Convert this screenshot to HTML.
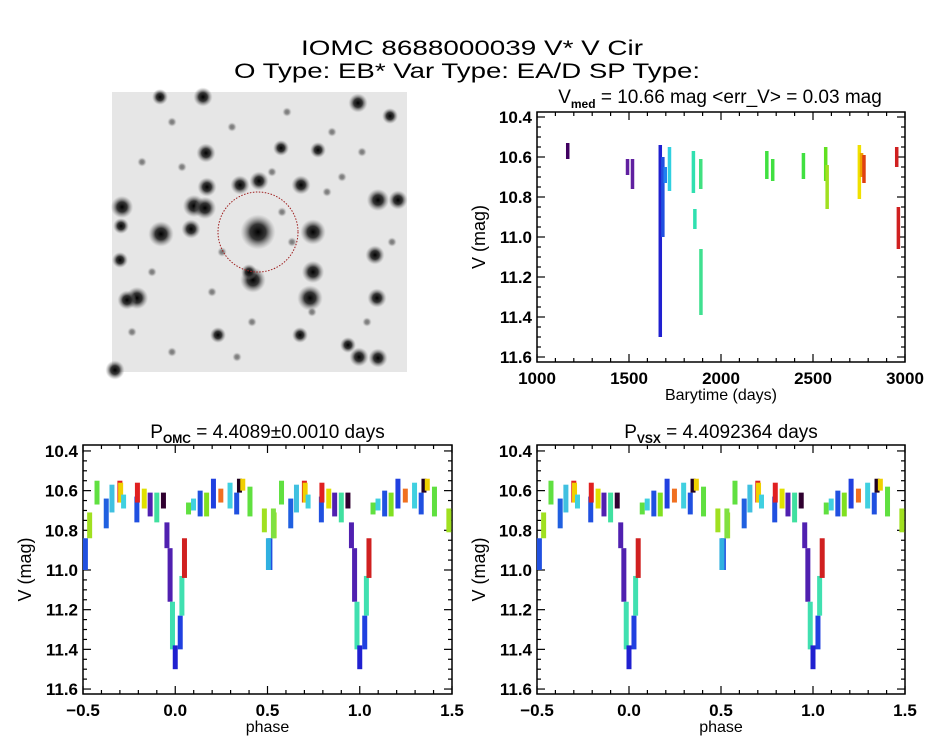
<!DOCTYPE html>
<html><head><meta charset="utf-8"><style>
html,body{margin:0;padding:0;background:#fff}
svg{display:block;font-family:"Liberation Sans",sans-serif}
</style></head><body>
<svg id="c" width="944" height="747" viewBox="0 0 944 747" xmlns="http://www.w3.org/2000/svg">
<rect width="944" height="747" fill="#fff"/>
<text x="301" y="55" font-size="21" textLength="342" lengthAdjust="spacingAndGlyphs">IOMC 8688000039    V* V Cir</text>
<text x="234" y="78" font-size="21" textLength="466" lengthAdjust="spacingAndGlyphs">O Type: EB*  Var Type: EA/D  SP Type:</text>
<g id="img"></g>
<g id="p1"></g>
<g id="p2"></g>
<g id="p3"></g>
</svg>
<script>
// ---- light curve data ----
const lcTimes = [1167,1492,1519,1670,1684,1697,1720,1850,1858,1890,1891,2249,2281,2448,2569,2577,2752,2764,2777,2955,2964];
const lcTop =   [10.53,10.61,10.61,10.54,10.60,10.65,10.55,10.57,10.86,10.61,11.06,10.57,10.61,10.58,10.55,10.64,10.54,10.58,10.59,10.55,10.85];
const lcBottom =[10.61,10.69,10.76,11.50,11.00,10.73,10.77,10.78,10.96,10.76,11.39,10.71,10.72,10.71,10.72,10.86,10.81,10.70,10.73,10.65,11.06];
const lcColors =["#400060","#6020a0","#6020a0","#2020d0","#2050e0","#2080f0","#30d0e0","#30e0b0","#30e0b0","#40e080","#40e090","#40e040","#40e040","#40e040","#60e020","#a0e020","#f0e000","#f0a000","#e04010","#d02020","#d02020"];
// ---- phased data (phase in [-0.5,0.5), drawn also at +1) ----
const phPhase = [-0.487,-0.464,-0.424,-0.374,-0.343,-0.300,-0.296,-0.280,-0.208,-0.205,-0.168,-0.136,-0.100,-0.064,-0.045,-0.028,-0.015,0.000,0.027,0.036,0.050,0.072,0.099,0.135,0.170,0.207,0.247,0.297,0.333,0.348,0.366,0.405,0.483,0.505,0.532];
const phTop =   [10.84,10.71,10.55,10.64,10.57,10.55,10.56,10.62,10.63,10.56,10.59,10.61,10.61,10.61,10.76,10.89,11.16,11.38,11.23,11.03,10.84,10.66,10.64,10.60,10.61,10.54,10.59,10.56,10.61,10.54,10.54,10.58,10.69,10.84,10.69];
const phBottom =[11.00,10.84,10.67,10.79,10.71,10.66,10.66,10.69,10.76,10.66,10.69,10.73,10.76,10.69,10.89,11.16,11.40,11.50,11.40,11.23,11.04,10.72,10.70,10.73,10.73,10.69,10.66,10.69,10.72,10.61,10.60,10.73,10.81,11.00,10.84];
const phColors =["#2050e0","#a0e020","#60e040","#2060e0","#40c0e0","#e02020","#f0d000","#40d0e0","#2050e0","#e02020","#e0e000","#5020b0","#40e0a0","#300030","#5020b0","#5020b0","#40e0b0","#2020d0","#2040e0","#40e0b0","#d02020","#60e040","#40d0e0","#2050e0","#80e020","#2040e0","#f07020","#40d0e0","#2050e0","#200020","#f0d000","#60e040","#a0e020","#30b0e0","#80e040"];
const yTicks = [10.4,10.6,10.8,11.0,11.2,11.4,11.6];
const yTickLabels = ["10.4","10.6","10.8","11.0","11.2","11.4","11.6"];
const tTicks = [1000,1500,2000,2500,3000];
const tTickLabels = ["1000","1500","2000","2500","3000"];
const phTicks = [-0.5,0,0.5,1.0,1.5];
const phTickLabels = ["\u22120.5","0.0","0.5","1.0","1.5"];
// ---- sky image stars (image-relative) ----
const starX = [146,49,79,82,10,9,93,95,128,147,189,201,201,198,141,266,286,263,265,25,15,91,48,246,169,206,94,137,188,236,247,266,3,106,8,278,60,120,175,220,30,70,160,230,250,40,110,180,280,20,140,200,60,100,255,215,170,125];
const starY = [140,142,137,114,115,134,116,95,93,89,93,140,180,206,188,108,108,163,206,206,208,5,5,11,56,58,61,180,243,253,265,266,278,243,168,24,30,35,20,40,70,75,80,85,60,180,160,150,150,240,230,220,260,200,230,100,120,265];
const starR = [11,8,6,7,7,5,7,6,6,6,6,8,7,8,8,7,6,6,6,7,6,6,5,6,5,5,6,5,5,5,6,6,6,5,5,5,3,3,3,3,3,3,3,3,3,3,3,3,3,3,3,3,3,3,3,3,3,3];

const svg=document.getElementById('c');
const NS='http://www.w3.org/2000/svg';
function mk(tag,attrs,parent){const e=document.createElementNS(NS,tag);for(const k in attrs)e.setAttribute(k,attrs[k]);parent.appendChild(e);return e;}

(function(){
  const g=document.getElementById('img');
  const ox=112,oy=92,w=295,h=280;
  const defs=mk('defs',{},svg);
  const rg=mk('radialGradient',{id:'star'},defs);
  mk('stop',{offset:'0','stop-color':'#000','stop-opacity':'1'},rg);
  mk('stop',{offset:'0.45','stop-color':'#222','stop-opacity':'0.9'},rg);
  mk('stop',{offset:'1','stop-color':'#888','stop-opacity':'0'},rg);
  const bg=mk('rect',{x:ox,y:oy,width:w,height:h,fill:'#e6e6e6'},g);
  
  
  for(let i=0;i<starX.length;i++){
    const s=mk('circle',{cx:ox+starX[i],cy:oy+starY[i],r:starR[i]*1.6,fill:'url(#star)',opacity:starR[i]<4?0.5:1},g);
    
    
  }
  const t=mk('circle',{cx:258,cy:232,r:40,fill:'none',stroke:'#a02020','stroke-width':1,'stroke-dasharray':'1.5 1.5'},g);
  
  
})();

function axes(g,x0,x1,y0,y1,xmin,xmax,ymin,ymax,xt,xtl,xminor,xtitle){
  const sx=v=>x0+(v-xmin)/(xmax-xmin)*(x1-x0);
  const sy=v=>y0+(v-ymin)/(ymax-ymin)*(y1-y0);
  const frame=mk('rect',{x:x0,y:y0,width:x1-x0,height:y1-y0,fill:'none',stroke:'#000','stroke-width':1.5},g);
  
  
  for(let v=xmin;v<=xmax+1e-9;v+=xminor){
    const maj=xt.some(t=>Math.abs(t-v)<1e-6);const L=maj?8:4;const X=sx(v);
    mk('line',{x1:X,y1:y1,x2:X,y2:y1-L,stroke:'#000','stroke-width':1.2},g);
    mk('line',{x1:X,y1:y0,x2:X,y2:y0+L,stroke:'#000','stroke-width':1.2},g);
  }
  for(let v=10.4;v<=11.6+1e-9;v+=0.05){
    const maj=Math.abs(Math.round(v*5)/5-v)<1e-6;const L=maj?8:4;const Y=sy(v);
    mk('line',{x1:x0,y1:Y,x2:x0+L,y2:Y,stroke:'#000','stroke-width':1.2},g);
    mk('line',{x1:x1,y1:Y,x2:x1-L,y2:Y,stroke:'#000','stroke-width':1.2},g);
  }
  xt.forEach((v,i)=>{const t=mk('text',{x:sx(v),y:y1+22,'font-size':17,'font-weight':'bold','text-anchor':'middle'},g);t.textContent=xtl[i];
    
    });
  yTicks.forEach((v,i)=>{const t=mk('text',{x:x0-5,y:sy(v)+6,'font-size':17,'font-weight':'bold','text-anchor':'end'},g);t.textContent=yTickLabels[i];
    
    });
  const xtT=mk('text',{x:(x0+x1)/2,y:y1+38,'font-size':16,'text-anchor':'middle'},g);xtT.textContent=xtitle;
  
  
  const yT=mk('text',{x:0,y:0,'font-size':18,'text-anchor':'middle',transform:`translate(${x0-52},${(y0+y1)/2}) rotate(-90)`},g);yT.textContent='V (mag)';
  
  
  return {sx,sy};
}
function streak(g,X,yt,yb,c,w){
  const r=mk('rect',{x:X-w/2,y:yt,width:w,height:Math.max(2,yb-yt),fill:c},g);
  
  
}

(function(){
  const g=document.getElementById('p1');
  const t=mk('text',{x:720,y:103,'font-size':19,'text-anchor':'middle'},g);
  
  
  t.innerHTML='V<tspan font-size="12" dy="5" font-weight="bold">med</tspan><tspan dy="-5"> = 10.66 mag &lt;err_V&gt; = 0.03 mag</tspan>';
  const a=axes(g,537,905,112,362,1000,3000,10.375,11.625,tTicks,tTickLabels,100,'Barytime (days)');
  lcTimes.forEach((v,i)=>streak(g,a.sx(v),a.sy(lcTop[i]),a.sy(lcBottom[i]),lcColors[i],3.5));
})();

function phasePlot(id,x0,x1,titleMain,titleSub){
  const g=document.getElementById(id);
  const t=mk('text',{x:(x0+x1)/2,y:438,'font-size':19,'text-anchor':'middle'},g);
  
  
  t.innerHTML=`P<tspan font-size="12" dy="5" font-weight="bold">${titleSub}</tspan><tspan dy="-5"> = ${titleMain}</tspan>`;
  const a=axes(g,x0,x1,445,694,-0.5,1.5,10.37,11.625,phTicks,phTickLabels,0.1,'phase');
  phPhase.forEach((p,i)=>{
    [p,p+1].forEach(q=>{ if(q>=-0.5&&q<=1.5) streak(g,a.sx(q),a.sy(phTop[i]),a.sy(phBottom[i]),phColors[i],5); });
  });
}
phasePlot('p2',83,452,'4.4089\u00B10.0010 days','OMC');
phasePlot('p3',537,905,'4.4092364 days','VSX');
</script>
</body></html>
